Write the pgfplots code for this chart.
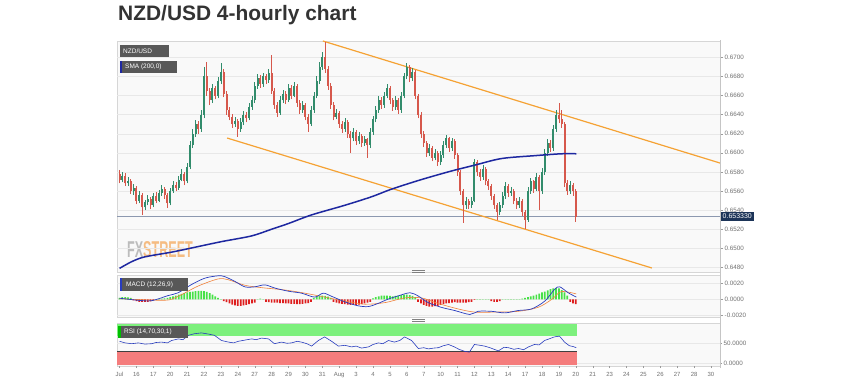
\documentclass[border=0pt]{standalone}
\usepackage{pgfplots}
\pgfplotsset{compat=1.18}
\usepackage{pgfplotstable}
\usepackage{fontspec}
\setmainfont{Liberation Sans}
\definecolor{candG}{RGB}{50,140,108}
\definecolor{candR}{RGB}{214,88,76}
\definecolor{smaC}{RGB}{30,40,160}
\definecolor{chanC}{RGB}{245,162,52}
\definecolor{macdB}{RGB}{40,60,190}
\definecolor{macdO}{RGB}{240,130,60}
\definecolor{histG}{RGB}{70,225,70}
\definecolor{histR}{RGB}{222,30,30}
\definecolor{bandG}{RGB}{125,240,125}
\definecolor{bandR}{RGB}{245,125,125}
\definecolor{panelbg}{RGB}{249,249,249}
\definecolor{gridc}{RGB}{232,232,232}
\definecolor{framec}{RGB}{214,214,214}
\definecolor{boxc}{RGB}{88,88,88}
\definecolor{lblc}{RGB}{112,112,112}
\definecolor{titlec}{RGB}{51,51,51}
\definecolor{priceC}{RGB}{140,152,175}
\definecolor{navyC}{RGB}{28,52,88}

% up candles: k open high low close
\pgfplotstableread{
k o h l c
1 0.6572 0.6580 0.6569 0.6576
3 0.6568 0.6575 0.6565 0.6571
5 0.6560 0.6567 0.6556 0.6563
7 0.6550 0.6560 0.6547 0.6556
9 0.6543 0.6551 0.6540 0.6548
10 0.6548 0.6556 0.6545 0.6552
12 0.6545 0.6558 0.6543 0.6555
14 0.6550 0.6561 0.6548 0.6558
15 0.6558 0.6566 0.6555 0.6562
18 0.6547 0.6563 0.6545 0.6560
19 0.6560 0.6570 0.6558 0.6566
21 0.6563 0.6576 0.6561 0.6572
22 0.6572 0.6583 0.6570 0.6578
24 0.6570 0.6589 0.6568 0.6585
25 0.6585 0.6612 0.6583 0.6608
26 0.6608 0.6625 0.6605 0.6620
27 0.6620 0.6634 0.6617 0.6630
29 0.6625 0.6645 0.6622 0.6640
30 0.6640 0.6690 0.6636 0.6680
33 0.6655 0.6672 0.6652 0.6668
35 0.6660 0.6679 0.6657 0.6675
36 0.6675 0.6694 0.6672 0.6685
41 0.6630 0.6637 0.6627 0.6633
43 0.6625 0.6636 0.6622 0.6632
44 0.6632 0.6644 0.6629 0.6640
46 0.6636 0.6652 0.6634 0.6648
47 0.6648 0.6659 0.6645 0.6655
48 0.6655 0.6674 0.6652 0.6670
49 0.6670 0.6683 0.6667 0.6678
51 0.6672 0.6684 0.6669 0.6680
53 0.6676 0.6688 0.6673 0.6684
57 0.6642 0.6659 0.6640 0.6655
58 0.6655 0.6666 0.6652 0.6662
60 0.6655 0.6672 0.6653 0.6668
62 0.6660 0.6674 0.6658 0.6670
65 0.6645 0.6654 0.6642 0.6650
68 0.6630 0.6649 0.6628 0.6645
69 0.6645 0.6664 0.6642 0.6660
70 0.6660 0.6680 0.6657 0.6675
71 0.6675 0.6695 0.6672 0.6690
72 0.6690 0.6706 0.6687 0.6700
77 0.6638 0.6646 0.6635 0.6642
80 0.6625 0.6636 0.6622 0.6632
83 0.6615 0.6626 0.6612 0.6622
85 0.6612 0.6622 0.6609 0.6618
87 0.6610 0.6618 0.6607 0.6614
89 0.6608 0.6626 0.6605 0.6622
90 0.6622 0.6639 0.6619 0.6635
91 0.6635 0.6649 0.6632 0.6645
92 0.6645 0.6659 0.6642 0.6655
94 0.6650 0.6664 0.6647 0.6660
95 0.6660 0.6672 0.6657 0.6668
98 0.6648 0.6659 0.6645 0.6655
100 0.6645 0.6664 0.6642 0.6660
101 0.6660 0.6684 0.6657 0.6680
102 0.6680 0.6694 0.6677 0.6690
104 0.6678 0.6689 0.6675 0.6685
110 0.6600 0.6609 0.6597 0.6605
112 0.6595 0.6604 0.6592 0.6600
114 0.6590 0.6602 0.6587 0.6598
115 0.6598 0.6612 0.6595 0.6608
116 0.6608 0.6619 0.6605 0.6615
118 0.6605 0.6616 0.6602 0.6612
123 0.6545 0.6554 0.6541 0.6550
125 0.6545 0.6554 0.6542 0.6550
126 0.6550 0.6594 0.6548 0.6590
129 0.6575 0.6587 0.6572 0.6583
135 0.6538 0.6549 0.6535 0.6545
136 0.6545 0.6559 0.6542 0.6555
137 0.6555 0.6569 0.6552 0.6565
139 0.6558 0.6564 0.6555 0.6560
142 0.6545 0.6554 0.6542 0.6550
145 0.6530 0.6564 0.6528 0.6560
146 0.6560 0.6574 0.6557 0.6570
148 0.6562 0.6579 0.6560 0.6575
150 0.6560 0.6584 0.6557 0.6580
151 0.6580 0.6604 0.6577 0.6600
152 0.6600 0.6614 0.6597 0.6610
154 0.6605 0.6629 0.6602 0.6625
155 0.6625 0.6645 0.6622 0.6640
160 0.6560 0.6570 0.6557 0.6566
}\upc

% down candles: k open high low close
\pgfplotstableread{
k o h l c
0 0.6578 0.6582 0.6568 0.6572
2 0.6576 0.6579 0.6565 0.6568
4 0.6571 0.6573 0.6557 0.6560
6 0.6563 0.6565 0.6546 0.6550
8 0.6556 0.6558 0.6535 0.6543
11 0.6552 0.6554 0.6541 0.6545
13 0.6555 0.6559 0.6547 0.6550
16 0.6562 0.6564 0.6552 0.6556
17 0.6556 0.6558 0.6542 0.6547
20 0.6566 0.6569 0.6560 0.6563
23 0.6578 0.6580 0.6566 0.6570
28 0.6630 0.6633 0.6620 0.6625
31 0.6680 0.6695 0.6660 0.6665
32 0.6665 0.6668 0.6650 0.6655
34 0.6668 0.6670 0.6656 0.6660
37 0.6685 0.6688 0.6658 0.6662
38 0.6662 0.6665 0.6640 0.6645
39 0.6645 0.6648 0.6634 0.6638
40 0.6638 0.6641 0.6626 0.6630
42 0.6633 0.6635 0.6617 0.6625
45 0.6640 0.6643 0.6632 0.6636
50 0.6678 0.6681 0.6668 0.6672
52 0.6680 0.6683 0.6672 0.6676
54 0.6684 0.6702 0.6662 0.6665
55 0.6665 0.6668 0.6646 0.6650
56 0.6650 0.6653 0.6638 0.6642
59 0.6662 0.6665 0.6651 0.6655
61 0.6668 0.6671 0.6656 0.6660
63 0.6670 0.6672 0.6648 0.6652
64 0.6652 0.6655 0.6641 0.6645
66 0.6650 0.6652 0.6634 0.6638
67 0.6638 0.6641 0.6622 0.6630
73 0.6700 0.6716 0.6684 0.6688
74 0.6688 0.6691 0.6666 0.6670
75 0.6670 0.6673 0.6646 0.6650
76 0.6650 0.6653 0.6634 0.6638
78 0.6642 0.6644 0.6626 0.6630
79 0.6630 0.6633 0.6621 0.6625
81 0.6632 0.6634 0.6616 0.6620
82 0.6620 0.6623 0.6600 0.6615
84 0.6622 0.6624 0.6608 0.6612
86 0.6618 0.6620 0.6606 0.6610
88 0.6614 0.6616 0.6595 0.6608
93 0.6655 0.6658 0.6646 0.6650
96 0.6668 0.6670 0.6651 0.6655
97 0.6655 0.6657 0.6644 0.6648
99 0.6655 0.6657 0.6641 0.6645
103 0.6690 0.6692 0.6674 0.6678
105 0.6685 0.6687 0.6656 0.6660
106 0.6660 0.6662 0.6636 0.6640
107 0.6640 0.6643 0.6616 0.6620
108 0.6620 0.6623 0.6606 0.6610
109 0.6610 0.6612 0.6596 0.6600
111 0.6605 0.6607 0.6591 0.6595
113 0.6600 0.6602 0.6586 0.6590
117 0.6615 0.6617 0.6601 0.6605
119 0.6612 0.6614 0.6594 0.6598
120 0.6598 0.6600 0.6576 0.6580
121 0.6580 0.6582 0.6556 0.6560
122 0.6560 0.6562 0.6527 0.6545
124 0.6550 0.6552 0.6541 0.6545
127 0.6590 0.6592 0.6576 0.6580
128 0.6580 0.6583 0.6571 0.6575
130 0.6583 0.6585 0.6566 0.6570
131 0.6570 0.6573 0.6561 0.6565
132 0.6565 0.6567 0.6551 0.6555
133 0.6555 0.6557 0.6541 0.6545
134 0.6545 0.6547 0.6530 0.6538
138 0.6565 0.6567 0.6554 0.6558
140 0.6560 0.6562 0.6546 0.6550
141 0.6550 0.6553 0.6541 0.6545
143 0.6550 0.6552 0.6534 0.6538
144 0.6538 0.6540 0.6520 0.6530
147 0.6570 0.6572 0.6558 0.6562
149 0.6575 0.6577 0.6540 0.6560
153 0.6610 0.6613 0.6601 0.6605
156 0.6640 0.6652 0.6631 0.6635
157 0.6635 0.6645 0.6626 0.6630
158 0.6630 0.6632 0.6564 0.6568
159 0.6568 0.6572 0.6556 0.6560
161 0.6566 0.6568 0.6555 0.6560
162 0.6560 0.6562 0.6528 0.6533
}\dnc

% SMA 200
\pgfplotstableread{
k v
0 0.6479
4.3 0.6486
8.9 0.6491
18.5 0.6496
26.6 0.6501
36.2 0.6507
46.9 0.6513
54 0.6520
60 0.6526
68.2 0.6535
79.9 0.6545
89.5 0.6554
96.6 0.6562
107.2 0.6572
117.9 0.6581
126 0.6587
135.6 0.6594
147.3 0.6597
156.9 0.6599
162.2 0.6599
}\sma

% MACD histogram
\pgfplotstableread{
k v
0 0.00020
1 0.00030
2 0.00030
3 0.00025
4 0.00020
5 -0.00010
6 -0.00020
7 -0.00030
8 -0.00030
9 -0.00030
10 -0.00030
11 -0.00025
12 -0.00015
13 0.00005
14 0.00005
15 0.00010
16 0.00015
17 0.00020
18 0.00030
19 0.00040
20 0.00050
21 0.00060
22 0.00070
23 0.00080
24 0.00090
25 0.00095
26 0.00100
27 0.00105
28 0.00110
29 0.00110
30 0.00105
31 0.00095
32 0.00080
33 0.00060
34 0.00040
35 0.00020
36 0.00005
37 -0.00020
38 -0.00035
39 -0.00050
40 -0.00065
41 -0.00075
42 -0.00080
43 -0.00080
44 -0.00075
45 -0.00070
46 -0.00060
47 -0.00050
48 -0.00040
49 0.00005
50 0.00010
51 0.00005
52 -0.00030
53 -0.00035
54 -0.00040
55 -0.00040
56 -0.00040
57 -0.00045
58 -0.00045
59 -0.00050
60 -0.00050
61 -0.00055
62 -0.00055
63 -0.00060
64 -0.00060
65 -0.00055
66 -0.00050
67 -0.00045
68 -0.00030
69 0.00020
70 0.00040
71 0.00050
72 0.00050
73 0.00045
74 0.00035
75 0.00020
76 -0.00030
77 -0.00040
78 -0.00050
79 -0.00055
80 -0.00060
81 -0.00065
82 -0.00070
83 -0.00070
84 -0.00070
85 -0.00065
86 -0.00060
87 -0.00050
88 -0.00040
89 -0.00030
90 0.00015
91 0.00030
92 0.00040
93 0.00050
94 0.00050
95 0.00050
96 0.00045
97 0.00040
98 0.00045
99 0.00050
100 0.00055
101 0.00060
102 0.00060
103 0.00055
104 0.00045
105 0.00030
106 -0.00030
107 -0.00050
108 -0.00070
109 -0.00080
110 -0.00090
111 -0.00090
112 -0.00085
113 -0.00080
114 -0.00070
115 -0.00060
116 -0.00050
117 -0.00045
118 -0.00040
119 -0.00035
120 -0.00040
121 -0.00040
122 -0.00040
123 -0.00040
124 -0.00035
125 -0.00030
126 -0.00005
127 0.00005
128 0.00005
129 0.00005
130 0.00005
131 0.00005
132 -0.00020
133 -0.00030
134 -0.00030
135 -0.00020
136 0.00005
137 0.00005
138 0.00005
139 0.00005
140 0.00005
141 0.00005
142 0.00005
143 0.00010
144 0.00020
145 0.00030
146 0.00040
147 0.00050
148 0.00060
149 0.00075
150 0.00090
151 0.00100
152 0.00115
153 0.00130
154 0.00140
155 0.00145
156 0.00140
157 0.00120
158 0.00090
159 0.00050
160 -0.00030
161 -0.00050
162 -0.00060
}\hist

% MACD line
\pgfplotstableread{
k v
0 0.00016
6.6 -0.00010
11.4 -0.00015
17.3 0.00050
20.8 0.00085
25.6 0.00190
30.3 0.00270
35 0.00300
37.3 0.00290
40.9 0.00230
44.5 0.00160
48 0.00160
51.6 0.00185
55.1 0.00145
59.9 0.00105
64.6 0.00080
69.3 0.00030
72.3 0.00080
75.3 0.00040
80 -0.00030
84.7 -0.00080
88.3 -0.00090
91.8 -0.00050
95.4 0.00005
98.9 0.00045
103.1 0.00085
106 0.00045
109.6 -0.00040
114.3 -0.00100
119 -0.00140
124.4 -0.00190
127.3 -0.00150
132.1 -0.00150
136.8 -0.00170
141.5 -0.00140
146.3 -0.00120
151 -0.00020
154.5 0.00130
156.3 0.00160
159.3 0.00085
162.2 0.00030
}\macd

% MACD signal
\pgfplotstableread{
k v
0 0.00010
16 -0.00010
20.8 0.00040
27.9 0.00170
35 0.00260
38.6 0.00250
44.5 0.00180
50.4 0.00150
58.7 0.00120
65.8 0.00080
72.9 0.00030
80 -0.00020
87.1 -0.00060
94.2 -0.00040
101.3 0.00020
107.2 0.00020
113.1 -0.00050
120.2 -0.00120
126.1 -0.00160
133.2 -0.00160
141.5 -0.00150
148.6 -0.00100
153.4 0.00000
156.9 0.00100
162.2 0.00070
}\signal

% RSI
\pgfplotstableread{
k v
0 56
2 52
4.3 50
6.7 52
9 49
11.4 50
13 53
14.9 54
17 52
18.5 58
20.9 62
22.5 60
24.5 71
26.6 75
29.1 77
31.6 74
33.7 71
36.2 58
38.7 54
40.5 52
42.2 56
44.5 59
46.9 62
48.5 60
50.4 64
52.9 62
55 50
57.5 54
59.5 51
61.1 52
63 56
64.6 54
66.5 50
68.2 44
70.6 58
72.8 67
75.3 56
77.7 44
80 46
82.4 42
84 44
85.9 39
88.4 42
90 48
91.9 52
93.5 50
95.5 58
97.6 54
99.5 58
101.2 67
103.7 58
106.1 38
108 40
109.7 37
111.5 39
113.2 40
115 45
116.8 48
118.9 42
120.5 36
122.5 31
124.2 29
126 48
128 46
129.6 44
131.5 40
134.5 32
136.5 41
138.1 40
140 36
141.6 38
143.5 35
145.2 42
147.3 48
149 47
150.9 58
152.5 62
154.4 67
156.2 69
158 54
159.7 45
161 43
162.2 40
}\rsi

\pgfplotsset{
  panel/.style={
    scale only axis, width=603bp, xmin=-0.9, xmax=213.2,
    axis line style={draw=none},
    ytick pos=right, yticklabel pos=right, tick align=outside,
    major tick length=3bp, tick style={draw=lblc!70, line width=0.4bp},
    ymajorgrids, grid style={draw=gridc, line width=0.4bp},
    yticklabel style={font=\fontsize{6.3}{7}\selectfont, text=lblc, inner sep=1.5bp},
    xtick=\empty, clip=true, scaled y ticks=false, scaled x ticks=false,
    /pgf/number format/assume math mode=true,
  },
  wick/.style={forget plot, draw=none, mark=none,
    error bars/.cd, y dir=plus, y explicit, error mark=none,
    error bar style={draw=#1, line width=0.7bp}},
  body/.style={forget plot, draw=none, mark=none,
    error bars/.cd, y dir=plus, y explicit, error mark=none,
    error bar style={draw=#1, line width=2bp, line cap=butt}},
}

\begin{document}
\begin{tikzpicture}
\path[use as bounding box, fill=white] (0,0) rectangle (862bp,384bp);

% panel backgrounds
\filldraw[fill=panelbg, draw=framec, line width=0.5bp] (117bp,112bp) rectangle (720bp,343bp);
\filldraw[fill=panelbg, draw=framec, line width=0.5bp] (117bp,67bp) rectangle (720bp,109bp);
\filldraw[fill=panelbg, draw=framec, line width=0.5bp] (117bp,18bp) rectangle (720bp,61bp);

% watermark
\node[anchor=base west, xscale=0.55, inner sep=0, opacity=0.5,
  font=\fontsize{23}{24}\selectfont\bfseries] at (127bp,126bp)
  {\textcolor{gray}{FX}\textcolor{orange!80!brown}{STREET}};

% main price panel
\begin{axis}[panel, at={(117bp,112bp)}, anchor=south west, height=231bp,
  ymin=0.64752, ymax=0.67171,
  ytick={0.648,0.650,0.652,0.654,0.656,0.658,0.660,0.662,0.664,0.666,0.668,0.670},
  yticklabels={0.6480,0.6500,0.6520,0.6540,0.6560,0.6580,0.6600,0.6620,0.6640,0.6660,0.6680,0.6700}]
  \addplot[priceC, line width=0.5bp, forget plot] coordinates {(-0.9,0.65333) (213.2,0.65333)};
  \addplot[chanC, line width=1.2bp, forget plot] coordinates {(72.2,0.67171) (213.2,0.65893)};
  \addplot[chanC, line width=1.2bp, forget plot] coordinates {(38.2,0.66155) (189.0,0.64794)};
  \addplot[wick=candG] table[x=k, y=l, y error plus expr={\thisrow{h}-\thisrow{l}}] {\upc};
  \addplot[body=candG] table[x=k, y=o, y error plus expr={\thisrow{c}-\thisrow{o}}] {\upc};
  \addplot[wick=candR] table[x=k, y=l, y error plus expr={\thisrow{h}-\thisrow{l}}] {\dnc};
  \addplot[body=candR] table[x=k, y=c, y error plus expr={\thisrow{o}-\thisrow{c}}] {\dnc};
  \addplot[smaC, line width=1.5bp, smooth, tension=0.5, forget plot] table[x=k, y=v] {\sma};
\end{axis}

% MACD panel
\begin{axis}[panel, at={(117bp,67bp)}, anchor=south west, height=42bp,
  ymin=-0.00222, ymax=0.00310,
  ytick={-0.002,0,0.002}, yticklabels={-0.0020,0.0000,0.0020}]
  \addplot[ybar, bar width=0.62, bar shift=0pt, fill=histG, draw=none, forget plot,
    restrict y to domain=0:1] table[x=k, y=v] {\hist};
  \addplot[ybar, bar width=0.62, bar shift=0pt, fill=histR, draw=none, forget plot,
    restrict y to domain=-1:0] table[x=k, y=v] {\hist};
  \addplot[macdO, line width=0.6bp, smooth, tension=0.5, forget plot] table[x=k, y=v] {\signal};
  \addplot[macdB, line width=0.7bp, smooth, tension=0.5, forget plot] table[x=k, y=v] {\macd};
\end{axis}

% RSI panel
\begin{axis}[panel, at={(117bp,18bp)}, anchor=south west, height=43bp,
  ymin=-5.75, ymax=101.75,
  ytick={0,50}, yticklabels={0.0000,50.0000},
  xtick={0,6,...,210}, xtick pos=left, major tick length=2bp,
  xticklabels={Jul,16,17,20,21,22,23,24,27,28,29,30,31,Aug,3,4,5,6,7,10,11,12,13,14,17,18,19,20,21,23,24,25,26,27,28,30},
  xticklabel style={font=\fontsize{6}{7}\selectfont, text=lblc, yshift=-1bp}]
  \addplot[fill=bandG, draw=none, forget plot] coordinates {(-0.9,70) (162.6,70) (162.6,100) (-0.9,100)};
  \addplot[fill=bandR, draw=none, forget plot] coordinates {(-0.9,-2.5) (162.6,-2.5) (162.6,30) (-0.9,30)};
  \addplot[black!75, line width=0.7bp, forget plot] coordinates {(-0.9,30) (162.6,30)};
  \addplot[macdB, line width=0.6bp, forget plot] table[x=k, y=v] {\rsi};
\end{axis}

% right axis line
\draw[framec!80!gray, line width=0.5bp] (720bp,16bp) -- (720bp,344bp);

% handles
\draw[gray, line width=0.6bp] (412bp,113.2bp) -- (425bp,113.2bp);
\draw[gray, line width=0.6bp] (412bp,111.4bp) -- (425bp,111.4bp);
\draw[gray, line width=0.6bp] (412bp,64.8bp) -- (425bp,64.8bp);
\draw[gray, line width=0.6bp] (412bp,63bp) -- (425bp,63bp);

% label boxes
\fill[boxc] (120bp,327bp) rectangle (169bp,339bp);
\node[anchor=west, text=white, inner sep=0, font=\fontsize{6.5}{7}\selectfont] at (123bp,333bp) {NZD/USD};
\fill[boxc] (120bp,311bp) rectangle (177bp,323bp);
\fill[smaC] (120bp,311bp) rectangle (122.3bp,323bp);
\node[anchor=west, text=white, inner sep=0, font=\fontsize{6.5}{7}\selectfont] at (125bp,317bp) {SMA (200,0)};
\fill[boxc] (120bp,93bp) rectangle (188bp,106bp);
\fill[macdB] (120bp,93bp) rectangle (122.3bp,106bp);
\node[anchor=west, text=white, inner sep=0, font=\fontsize{6.5}{7}\selectfont] at (126bp,99.5bp) {MACD (12,26,9)};
\fill[boxc] (118bp,46bp) rectangle (188bp,58bp);
\fill[green!75!black] (118bp,46bp) rectangle (120.5bp,58bp);
\node[anchor=west, text=white, inner sep=0, font=\fontsize{6.5}{7}\selectfont] at (124bp,52bp) {RSI (14,70,30,1)};

% current price tag
\node[anchor=west, fill=navyC, text=white, inner xsep=2bp, inner ysep=1.6bp,
  font=\fontsize{7}{8}\selectfont] at (720.5bp,167.5bp) {0.653330};

% title
\node[anchor=base west, inner sep=0, text=titlec, font=\fontsize{21}{24}\selectfont\bfseries]
  at (118bp,363.3bp) {NZD/USD 4-hourly chart};
\end{tikzpicture}
\end{document}
